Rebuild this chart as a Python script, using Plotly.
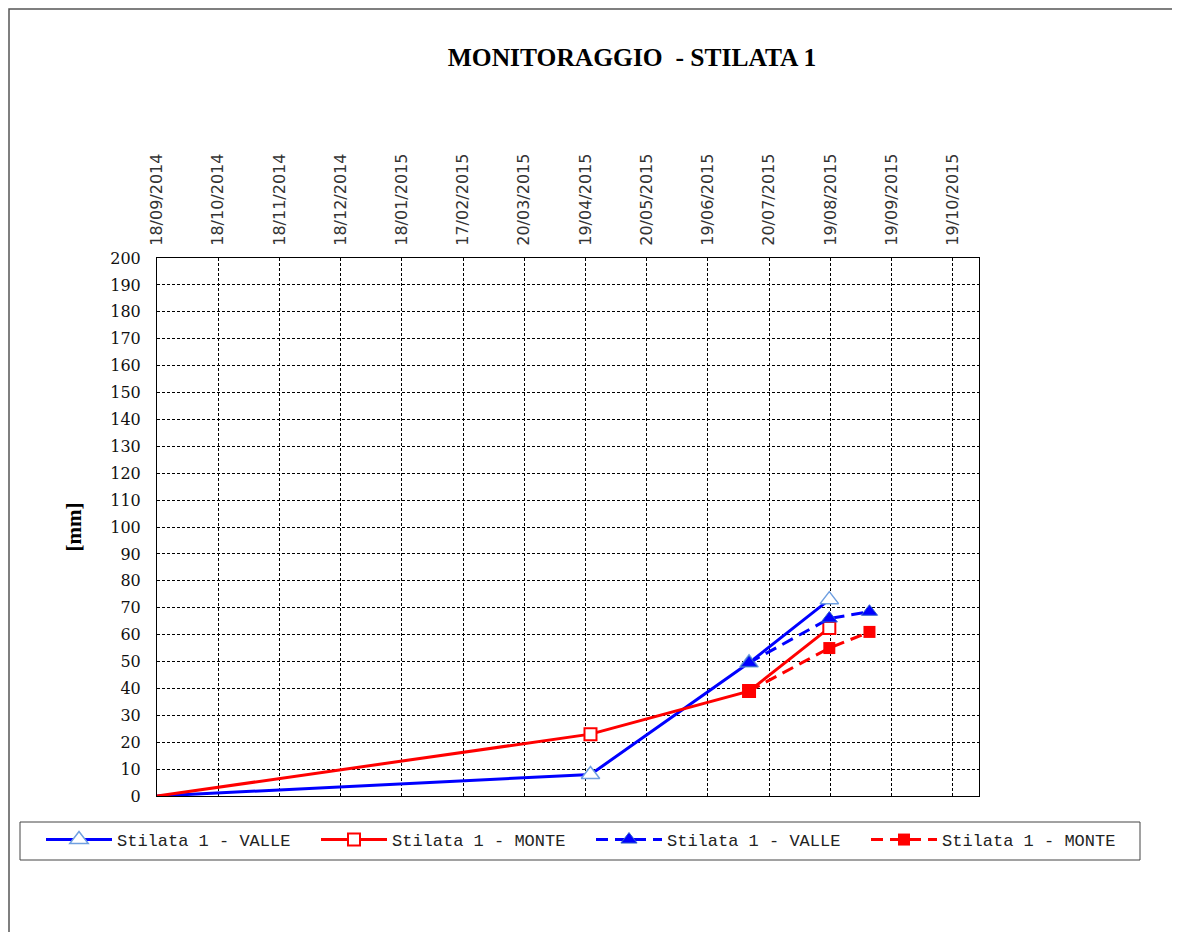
import plotly.graph_objects as go

# ---- data ----
valle_dates = ["2014-09-18", "2015-04-22", "2015-07-10", "2015-08-19"]
valle_vals = [0, 8, 49.5, 73]
monte_dates = ["2014-09-18", "2015-04-22", "2015-07-10", "2015-08-19"]
monte_vals = [0, 23, 39, 62.5]
valle2_dates = ["2015-07-10", "2015-08-19", "2015-09-08"]
valle2_vals = [49.5, 66, 68.5]
monte2_dates = ["2015-07-10", "2015-08-19", "2015-09-08"]
monte2_vals = [39, 55, 61]

tick_dates = ["2014-09-18", "2014-10-18T12:00", "2014-11-18", "2014-12-18T12:00",
              "2015-01-18", "2015-02-17T12:00", "2015-03-20", "2015-04-19T12:00",
              "2015-05-20", "2015-06-19T12:00", "2015-07-20", "2015-08-19T12:00",
              "2015-09-19", "2015-10-19T12:00"]
tick_labels = ["18/09/2014", "18/10/2014", "18/11/2014", "18/12/2014", "18/01/2015",
               "17/02/2015", "20/03/2015", "19/04/2015", "20/05/2015", "19/06/2015",
               "20/07/2015", "19/08/2015", "19/09/2015", "19/10/2015"]

BLUE = "#0000FF"
RED = "#FF0000"

OFF = 8  # page body margin
W, H = 1172, 924
# plot area in page pixels
PL, PR, PT, PB = 157, 979, 258, 796
L, R, T, B = PL - OFF, PR - OFF, PT - OFF, PB - OFF
pw, ph = R - L, B - T


def px_x(page_x):
    return (page_x - OFF - L) / pw


def px_y(page_y):
    return (B - (page_y - OFF)) / ph


fig = go.Figure()
# first segments (from the origin point, which carries no marker)
fig.add_trace(go.Scatter(
    x=valle_dates[:2], y=valle_vals[:2], mode="lines", showlegend=False,
    line=dict(color=BLUE, width=3), hoverinfo="skip"))
fig.add_trace(go.Scatter(
    x=monte_dates[:2], y=monte_vals[:2], mode="lines", showlegend=False,
    line=dict(color=RED, width=3), hoverinfo="skip"))
fig.add_trace(go.Scatter(
    x=valle_dates[1:], y=valle_vals[1:], mode="lines+markers", name="Stilata 1 - VALLE",
    legend="legend",
    line=dict(color=BLUE, width=3),
    marker=dict(symbol="triangle-up", size=16, color="white",
                line=dict(color="#6f9fe0", width=1.5))))
fig.add_trace(go.Scatter(
    x=monte_dates[1:], y=monte_vals[1:], mode="lines+markers", name="Stilata 1 - MONTE",
    legend="legend2",
    line=dict(color=RED, width=3),
    marker=dict(symbol="square", size=12, color="white",
                line=dict(color=RED, width=2))))
fig.add_trace(go.Scatter(
    x=valle2_dates, y=valle2_vals, mode="lines+markers", name="Stilata 1 - VALLE",
    legend="legend3",
    line=dict(color=BLUE, width=3, dash="12px,7px"),
    marker=dict(symbol="triangle-up", size=14, color=BLUE,
                line=dict(color="#3060d0", width=1))))
fig.add_trace(go.Scatter(
    x=monte2_dates, y=monte2_vals, mode="lines+markers", name="Stilata 1 - MONTE",
    legend="legend4",
    line=dict(color=RED, width=3, dash="12px,7px"),
    marker=dict(symbol="square", size=12, color=RED)))


def legend_at(page_x):
    return dict(orientation="h", xref="paper", x=px_x(page_x), xanchor="left",
                y=px_y(822), yanchor="top",
                borderwidth=0, bgcolor="rgba(0,0,0,0)",
                font=dict(family="Liberation Mono", size=17, color="#222"),
                itemwidth=66)


fig.update_layout(
    width=W, height=H,
    margin=dict(l=L, r=W - R, t=T, b=H - B),
    paper_bgcolor="white", plot_bgcolor="white",
    title=dict(text="<b>MONITORAGGIO  - STILATA 1</b>",
               font=dict(family="Liberation Serif", size=25.5, color="black"),
               x=(632 - OFF) / W, xanchor="center", xref="container",
               y=1 - (57 - OFF) / H, yanchor="middle", yref="container"),
    showlegend=True,
    legend=legend_at(41),
    legend2=legend_at(316),
    legend3=legend_at(591),
    legend4=legend_at(866),
    xaxis=dict(type="date", side="top",
               range=["2014-09-18", "2015-11-01T14:00"],
               tickvals=tick_dates, ticktext=tick_labels, tickangle=-90,
               tickfont=dict(family="DejaVu Sans", size=16, color="#333"),
               ticks="", ticklabelstandoff=8,
               showgrid=True, gridcolor="black", gridwidth=1, griddash="3px,2px",
               showline=True, linecolor="black", linewidth=1, mirror=True,
               zeroline=False),
    yaxis=dict(range=[0, 200], dtick=10, tick0=0,
               tickfont=dict(family="DejaVu Serif", size=16, color="#111"),
               ticks="", ticklabelstandoff=12,
               title=dict(text="<b>[mm]</b>", standoff=22,
                          font=dict(family="Liberation Serif", size=21, color="black")),
               showgrid=True, gridcolor="black", gridwidth=1, griddash="3px,2px",
               showline=True, linecolor="black", linewidth=1, mirror=True,
               zeroline=False),
)

# outer chart border
fig.add_shape(type="rect", xref="paper", yref="paper",
              x0=px_x(9), x1=px_x(1177),
              y0=px_y(960), y1=px_y(9),
              line=dict(color="#555", width=1.5), fillcolor="rgba(0,0,0,0)",
              layer="below")
# legend box
fig.add_shape(type="rect", xref="paper", yref="paper",
              x0=px_x(20), x1=px_x(1140),
              y0=px_y(860), y1=px_y(822),
              line=dict(color="#444", width=1), fillcolor="rgba(0,0,0,0)",
              layer="below")

fig.write_html("out.html")
